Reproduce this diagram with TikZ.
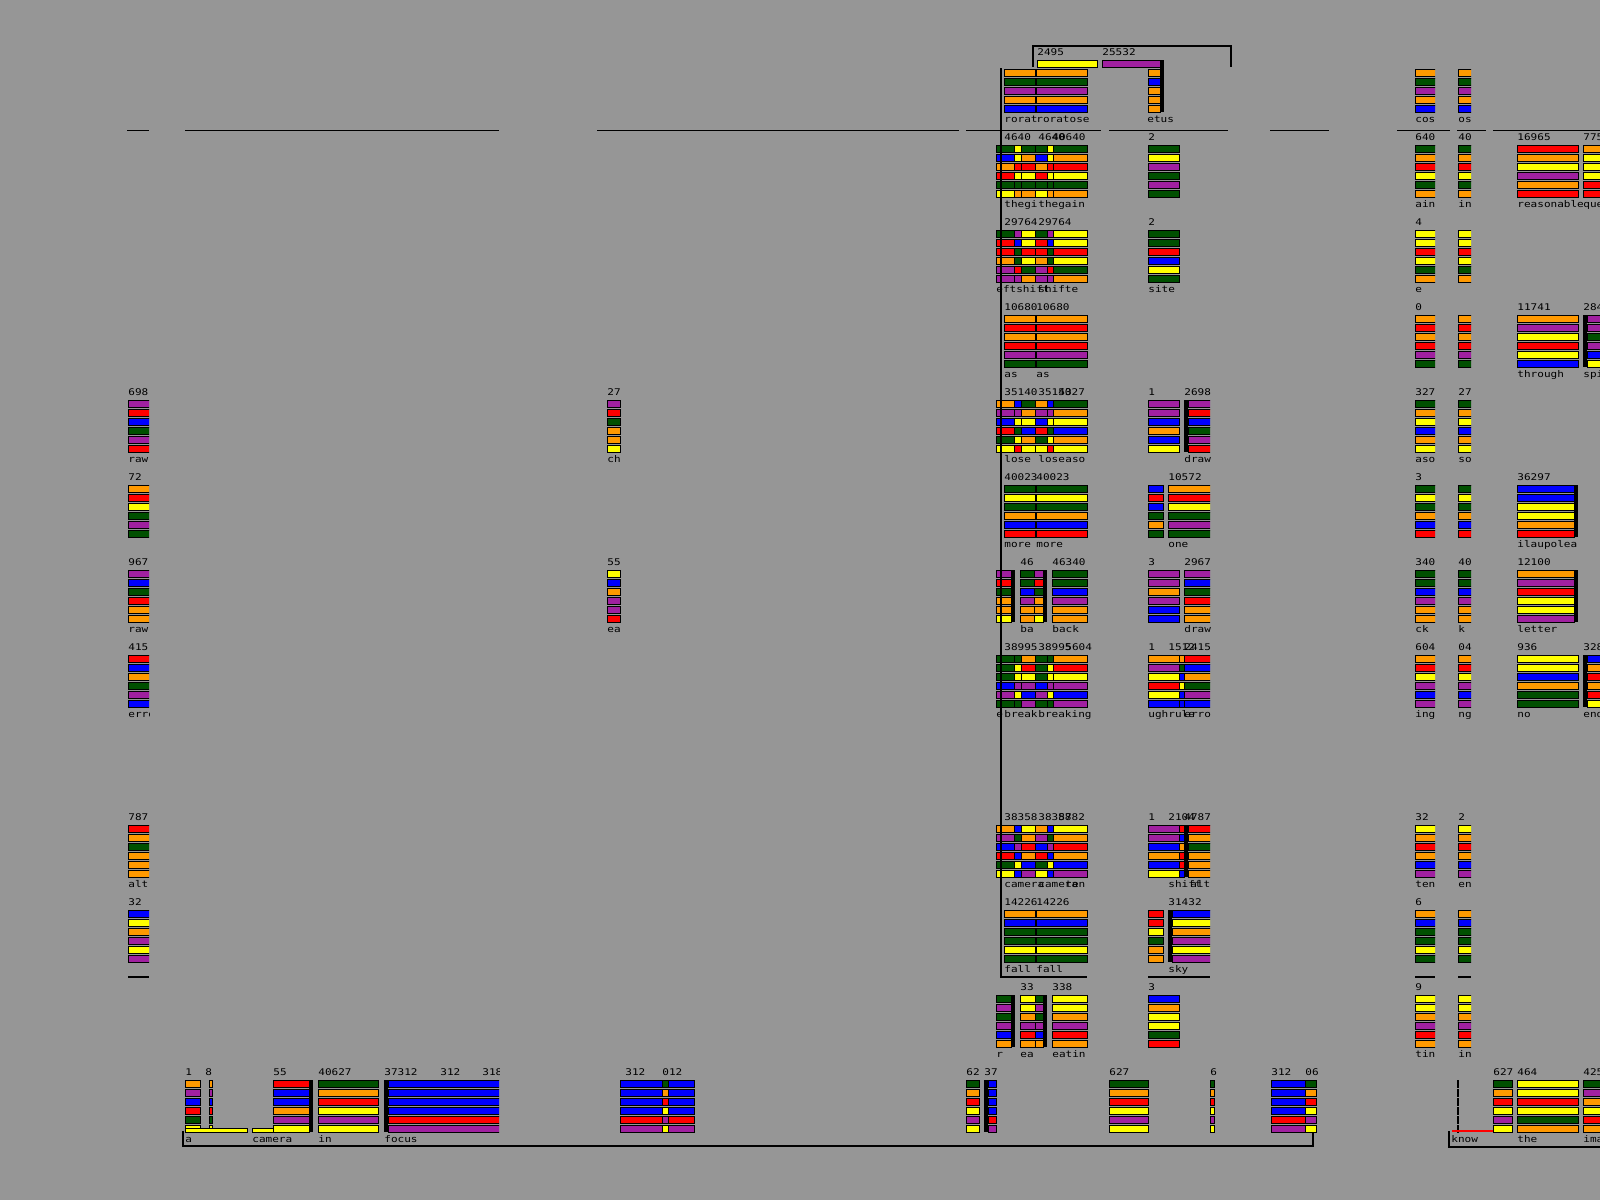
\documentclass[tikz,border=0pt]{standalone}
\usepackage{fontspec}
\newfontfamily\pixfont[FakeStretch=1.2]{DejaVu Sans Mono}
\newcommand{\pixsize}{\pixfont\fontsize{4.6pt}{5pt}\selectfont}
\definecolor{bg}{RGB}{150,150,150}
\definecolor{cO}{RGB}{255,153,0}
\definecolor{cG}{RGB}{0,80,0}
\definecolor{cP}{RGB}{160,32,160}
\definecolor{cR}{RGB}{255,0,0}
\definecolor{cB}{RGB}{0,0,255}
\definecolor{cY}{RGB}{255,255,0}
\tikzset{
  bar/.style={draw=black,line width=0.5pt},
  rule/.style={draw=black,line width=0.6pt},
  num/.style={anchor=base west,inner sep=0pt,font=\pixsize},
  word/.style={anchor=base west,inner sep=0pt,font=\pixsize},
}
\newcommand{\bars}[4]{%
  \foreach \col [count=\i from 0] in {#4}
    \draw[bar,fill=\col] (#1,#2+9*\i) rectangle ++(#3,7);}
\newcommand{\blk}[2]{\fill[black] (#1,#2) rectangle ++(4,52);}
\newcommand{\wcell}[7]{%
  \bars{#2}{#3}{#4}{#5}
  \node[num] (n-#1) at (#2,#3-4.5) {#6};
  \node[word] (w-#1) at (#2,#3+62.5) {#7};}
\newcommand{\twin}[4]{%
  \bars{996}{#1}{18}{#2}\bars{1014}{#1}{7}{#3}\bars{1021}{#1}{14}{#4}
  \bars{1035}{#1}{12}{#2}\bars{1047}{#1}{6}{#3}\bars{1053}{#1}{34}{#4}}
\begin{document}
\begin{tikzpicture}[x=0.5pt,y=-0.5pt]
\fill[bg] (0,0) rectangle (1600,1200);
\useasboundingbox (0,0) rectangle (1600,1200);
\clip (0,0) rectangle (1600,1200);
\foreach \a/\b in {127/149,185/499,597/959,966/1101,1109/1228,1270/1329,1397/1450,1457/1486,1493/1600}
  \draw[rule] (\a,130.6) -- (\b,130.6);
\foreach \a/\b in {128/149,1148/1210,1415/1435,1458/1471}
  \draw[rule] (\a,977) -- (\b,977);
\draw[rule] (1033,67) |- (1231,46) -- (1231,67);
\draw[rule] (183,1131) |- (1313,1146) -- (1313,1131);
\draw[rule] (1449,1131) |- (1600,1147);

\begin{scope}
\clip (128,0) rectangle (149,1200);
\wcell{a4}{128}{400}{30}{cP,cR,cB,cG,cP,cR}{698}{raw}
\wcell{a5}{128}{485}{30}{cO,cR,cY,cG,cP,cG}{72}{}
\wcell{a6}{128}{570}{30}{cP,cB,cG,cR,cO,cO}{967}{raw}
\wcell{a7}{128}{655}{30}{cR,cB,cO,cG,cP,cB}{415}{erro}
\wcell{a9}{128}{825}{30}{cR,cO,cG,cO,cO,cO}{787}{alt}
\wcell{a10}{128}{910}{30}{cB,cY,cO,cP,cY,cP}{32}{}
\end{scope}

\wcell{b4}{607}{400}{13}{cP,cR,cG,cO,cO,cY}{27}{ch}
\wcell{b6}{607}{570}{13}{cY,cB,cO,cP,cP,cR}{55}{ea}

\bars{1004}{69}{31}{cO,cG,cP,cO,cB}
\bars{1036}{69}{51}{cO,cG,cP,cO,cB}
\wcell{c0}{1037}{60}{60}{cY}{2495}{}
\node[word] (w-c0a) at (1004,122.5) {rorat};
\node[word] (w-c0b) at (1036,122.5) {roratose};
\wcell{d0}{1102}{60}{58}{cP}{25532}{}
\bars{1148}{69}{12}{cO,cB,cO,cO,cO}
\blk{1160}{60}
\node[word] (w-d0) at (1147,122.5) {etus};

\twin{145}{cG,cB,cO,cR,cG,cY}{cY,cY,cR,cY,cG,cO}{cG,cO,cR,cY,cG,cO}
\node[num] (n-c1a) at (1004,140.5) {4640};
\node[num] (n-c1b) at (1038,140.5) {4640};
\node[num] (n-c1c) at (1052,140.5) {40640};
\node[word] (w-c1a) at (1004,207.5) {thegi};
\node[word] (w-c1b) at (1038,207.5) {thegain};

\twin{230}{cG,cR,cR,cO,cP,cP}{cP,cB,cG,cG,cR,cP}{cY,cY,cR,cY,cG,cO}
\node[num] (n-c2a) at (1004,225.5) {29764};
\node[num] (n-c2b) at (1038,225.5) {29764};
\node[word] (w-c2a) at (996,292.5) {eftshift};
\node[word] (w-c2b) at (1038,292.5) {shifte};

\wcell{c3a}{1004}{315}{31}{cO,cR,cO,cR,cP,cG}{10680}{as}
\wcell{c3b}{1036}{315}{51}{cO,cR,cO,cR,cP,cG}{10680}{as}

\twin{400}{cO,cP,cB,cR,cG,cY}{cB,cP,cY,cG,cY,cR}{cG,cO,cY,cB,cO,cY}
\node[num] (n-c4a) at (1004,395.5) {35140};
\node[num] (n-c4b) at (1038,395.5) {35140};
\node[num] (n-c4c) at (1058,395.5) {5327};
\node[word] (w-c4a) at (1004,462.5) {lose};
\node[word] (w-c4b) at (1038,462.5) {lose};
\node[word] (w-c4c) at (1065,462.5) {aso};

\wcell{c5a}{1004}{485}{31}{cG,cY,cG,cO,cB,cR}{40023}{more}
\wcell{c5b}{1036}{485}{51}{cG,cY,cG,cO,cB,cR}{40023}{more}

\bars{996}{570}{15}{cP,cR,cG,cO,cO,cY}
\blk{1011}{570}
\bars{1020}{570}{14}{cG,cG,cB,cP,cO,cO}
\bars{1034}{570}{9}{cP,cR,cG,cO,cO,cY}
\blk{1043}{570}
\node[num] (n-c6b) at (1020,565.5) {46};
\node[word] (w-c6b) at (1020,632.5) {ba};
\wcell{c6c}{1052}{570}{35}{cG,cG,cB,cP,cO,cO}{46340}{back}

\twin{655}{cG,cG,cG,cB,cP,cG}{cG,cY,cY,cP,cY,cG}{cO,cR,cY,cP,cB,cP}
\node[num] (n-c7a) at (1004,650.5) {38995};
\node[num] (n-c7b) at (1038,650.5) {38995};
\node[num] (n-c7c) at (1065,650.5) {5604};
\node[word] (w-c7a) at (996,717.5) {e};
\node[word] (w-c7b) at (1004,717.5) {break};
\node[word] (w-c7c) at (1038,717.5) {breaking};

\twin{825}{cO,cP,cB,cR,cG,cY}{cB,cG,cP,cB,cY,cB}{cY,cO,cR,cO,cB,cP}
\node[num] (n-c9a) at (1004,820.5) {38358};
\node[num] (n-c9b) at (1038,820.5) {38358};
\node[num] (n-c9c) at (1058,820.5) {8782};
\node[word] (w-c9a) at (1004,887.5) {camera};
\node[word] (w-c9b) at (1038,887.5) {camera};
\node[word] (w-c9c) at (1065,887.5) {ten};

\wcell{c10a}{1004}{910}{31}{cO,cB,cG,cG,cY,cG}{14226}{fall}
\wcell{c10b}{1036}{910}{51}{cO,cB,cG,cG,cY,cG}{14226}{fall}

\bars{996}{995}{15}{cG,cP,cG,cP,cB,cO}
\blk{1011}{995}
\bars{1020}{995}{15}{cY,cY,cO,cP,cR,cO}
\bars{1035}{995}{8}{cG,cP,cG,cP,cB,cO}
\blk{1043}{995}
\node[num] (n-c11b) at (1020,990.5) {33};
\node[word] (w-c11a) at (996,1057.5) {r};
\node[word] (w-c11b) at (1020,1057.5) {ea};
\wcell{c11c}{1052}{995}{35}{cY,cY,cO,cP,cR,cO}{338}{eatin}
\draw[rule] (1001,68) |- (1087,977);

\begin{scope}
\clip (1148,0) rectangle (1210,1200);
\wcell{d1}{1148}{145}{31}{cG,cY,cP,cG,cP,cG}{2}{}
\wcell{d2}{1148}{230}{31}{cG,cG,cR,cB,cY,cG}{2}{site}
\wcell{d4a}{1148}{400}{31}{cP,cP,cB,cO,cB,cY}{1}{}
\blk{1184}{400}
\bars{1188}{400}{30}{cP,cR,cB,cG,cP,cR}
\node[num] (n-d4b) at (1184,395.5) {2698};
\node[word] (w-d4b) at (1184,462.5) {draw};
\wcell{d5a}{1148}{485}{15}{cB,cR,cB,cG,cO,cG}{}{}
\wcell{d5b}{1168}{485}{50}{cO,cR,cY,cG,cP,cG}{10572}{one}
\wcell{d6a}{1148}{570}{31}{cP,cP,cO,cP,cB,cB}{3}{}
\wcell{d6b}{1184}{570}{30}{cP,cB,cG,cR,cO,cO}{2967}{draw}
\wcell{d7a}{1148}{655}{31}{cO,cP,cY,cR,cY,cB}{1}{ugh}
\bars{1179}{655}{5}{cO,cG,cB,cY,cB,cB}
\wcell{d7c}{1184}{655}{30}{cR,cB,cO,cG,cP,cB}{2415}{erro}
\node[num] (n-d7b) at (1168,650.5) {1512};
\node[word] (w-d7b) at (1168,717.5) {rule};
\wcell{d9a}{1148}{825}{31}{cP,cP,cB,cO,cB,cY}{1}{}
\bars{1179}{825}{5}{cR,cB,cO,cR,cR,cB}
\blk{1184}{825}
\bars{1188}{825}{30}{cR,cO,cG,cO,cO,cO}
\node[num] (n-d9b) at (1168,820.5) {2104};
\node[num] (n-d9c) at (1184,820.5) {4787};
\node[word] (w-d9b) at (1168,887.5) {shift};
\node[word] (w-d9c) at (1190,887.5) {alt};
\wcell{d10a}{1148}{910}{15}{cR,cR,cY,cG,cO,cO}{}{}
\blk{1168}{910}
\bars{1172}{910}{45}{cB,cY,cO,cP,cY,cP}
\node[num] (n-d10b) at (1168,905.5) {31432};
\node[word] (w-d10b) at (1168,972.5) {sky};
\wcell{d11}{1148}{995}{31}{cB,cO,cY,cY,cG,cR}{3}{}
\end{scope}

\begin{scope}
\clip (1415,0) rectangle (1435,1200);
\bars{1415}{69}{25}{cO,cG,cP,cO,cB}
\node[word] (w-e0) at (1415,122.5) {cose};
\wcell{e1}{1415}{145}{25}{cG,cO,cR,cY,cG,cO}{640}{ain}
\wcell{e2}{1415}{230}{25}{cY,cY,cR,cY,cG,cO}{4}{e}
\wcell{e3}{1415}{315}{25}{cO,cR,cO,cR,cP,cG}{0}{}
\wcell{e4}{1415}{400}{25}{cG,cO,cY,cB,cO,cY}{327}{aso}
\wcell{e5}{1415}{485}{25}{cG,cY,cG,cO,cB,cR}{3}{}
\wcell{e6}{1415}{570}{25}{cG,cG,cB,cP,cO,cO}{340}{ck}
\wcell{e7}{1415}{655}{25}{cO,cR,cY,cP,cB,cP}{604}{ing}
\wcell{e9}{1415}{825}{25}{cY,cO,cR,cO,cB,cP}{32}{ten}
\wcell{e10}{1415}{910}{25}{cO,cB,cG,cG,cY,cG}{6}{}
\wcell{e11}{1415}{995}{25}{cY,cY,cO,cP,cR,cO}{9}{tin}
\end{scope}

\begin{scope}
\clip (1458,0) rectangle (1471,1200);
\bars{1458}{69}{20}{cO,cG,cP,cO,cB}
\node[word] (w-f0) at (1458,122.5) {ose};
\wcell{f1}{1458}{145}{20}{cG,cO,cR,cY,cG,cO}{40}{in}
\wcell{f2}{1458}{230}{20}{cY,cY,cR,cY,cG,cO}{}{}
\wcell{f3}{1458}{315}{20}{cO,cR,cO,cR,cP,cG}{}{}
\wcell{f4}{1458}{400}{20}{cG,cO,cY,cB,cO,cY}{27}{so}
\wcell{f5}{1458}{485}{20}{cG,cY,cG,cO,cB,cR}{}{}
\wcell{f6}{1458}{570}{20}{cG,cG,cB,cP,cO,cO}{40}{k}
\wcell{f7}{1458}{655}{20}{cO,cR,cY,cP,cB,cP}{04}{ng}
\wcell{f9}{1458}{825}{20}{cY,cO,cR,cO,cB,cP}{2}{en}
\wcell{f10}{1458}{910}{20}{cO,cB,cG,cG,cY,cG}{}{}
\wcell{f11}{1458}{995}{20}{cY,cY,cO,cP,cR,cO}{}{in}
\end{scope}

\wcell{g1}{1517}{145}{61}{cR,cO,cY,cP,cO,cR}{16965}{reasonable}
\wcell{g3}{1517}{315}{61}{cO,cP,cY,cR,cY,cB}{11741}{through}
\wcell{g5}{1517}{485}{57}{cB,cB,cY,cY,cO,cR}{36297}{ilaupolea}
\blk{1574}{485}
\wcell{g6}{1517}{570}{57}{cO,cP,cR,cY,cY,cP}{12100}{letter}
\blk{1574}{570}
\wcell{g7}{1517}{655}{61}{cY,cY,cB,cO,cG,cG}{936}{no}
\wcell{g12}{1517}{1080}{61}{cY,cY,cR,cY,cG,cO}{464}{the}
\wcell{h1}{1583}{145}{30}{cO,cY,cY,cY,cR,cR}{775}{que}
\blk{1583}{315}
\bars{1587}{315}{30}{cP,cP,cG,cP,cB,cY}
\node[num] (n-h3) at (1583,310.5) {284};
\node[word] (w-h3) at (1583,377.5) {spi};
\blk{1583}{655}
\bars{1587}{655}{30}{cB,cO,cR,cO,cR,cY}
\node[num] (n-h7) at (1583,650.5) {328};
\node[word] (w-h7) at (1583,717.5) {end};
\wcell{h12}{1583}{1080}{30}{cG,cP,cO,cY,cR,cO}{425}{ima}

\begin{scope}
\clip (0,0) rectangle (499,1200);
\bars{185}{1080}{15}{cO,cP,cB,cR,cG,cY}
\bars{209}{1080}{3}{cO,cP,cB,cR,cG,cY}
\draw[bar,fill=cY] (185,1128) rectangle (247,1132);
\draw[bar,fill=cY] (252,1128) rectangle (273,1132);
\node[num] (n-k0) at (185,1075.5) {1};
\node[num] (n-k0b) at (205,1075.5) {8};
\node[word] (w-k0) at (185,1142.5) {a};
\wcell{k1}{273}{1080}{36}{cR,cB,cB,cO,cP,cY}{55}{}
\blk{309}{1080}
\node[word] (w-k1) at (252,1142.5) {camera};
\wcell{k2}{318}{1080}{60}{cG,cO,cR,cY,cP,cY}{40627}{in}
\blk{384}{1080}
\bars{388}{1080}{115}{cB,cB,cB,cB,cR,cP}
\node[num] (n-k3) at (384,1075.5) {37312};
\node[num] (n-k3b) at (440,1075.5) {312};
\node[num] (n-k3c) at (482,1075.5) {318};
\node[word] (w-k3) at (384,1142.5) {focus};
\end{scope}

\bars{620}{1080}{42}{cB,cB,cB,cB,cR,cP}
\bars{662}{1080}{6}{cG,cO,cR,cY,cP,cY}
\bars{668}{1080}{26}{cB,cB,cB,cB,cR,cP}
\node[num] (n-k4) at (625,1075.5) {312};
\node[num] (n-k4b) at (662,1075.5) {012};
\wcell{k5}{966}{1080}{13}{cG,cO,cR,cY,cP,cY}{62}{}
\blk{984}{1080}
\bars{988}{1080}{8}{cB,cB,cB,cB,cR,cP}
\node[num] (n-k6) at (984,1075.5) {37};
\wcell{k7}{1109}{1080}{39}{cG,cO,cR,cY,cP,cY}{627}{}
\wcell{k8}{1210}{1080}{4}{cG,cO,cR,cY,cP,cY}{6}{}
\bars{1271}{1080}{34}{cB,cB,cB,cB,cR,cP}
\bars{1305}{1080}{11}{cG,cO,cR,cY,cP,cY}
\node[num] (n-k9) at (1271,1075.5) {312};
\node[num] (n-k9b) at (1305,1075.5) {06};
\bars{1457}{1080}{1}{cG,cO,cR,cY,cP,cY}
\fill[cR] (1452,1130) rectangle (1512,1132);
\node[word] (w-k10) at (1451,1142.5) {know};
\wcell{k11}{1493}{1080}{19}{cG,cO,cR,cY,cP,cY}{627}{}
\end{tikzpicture}
\end{document}
